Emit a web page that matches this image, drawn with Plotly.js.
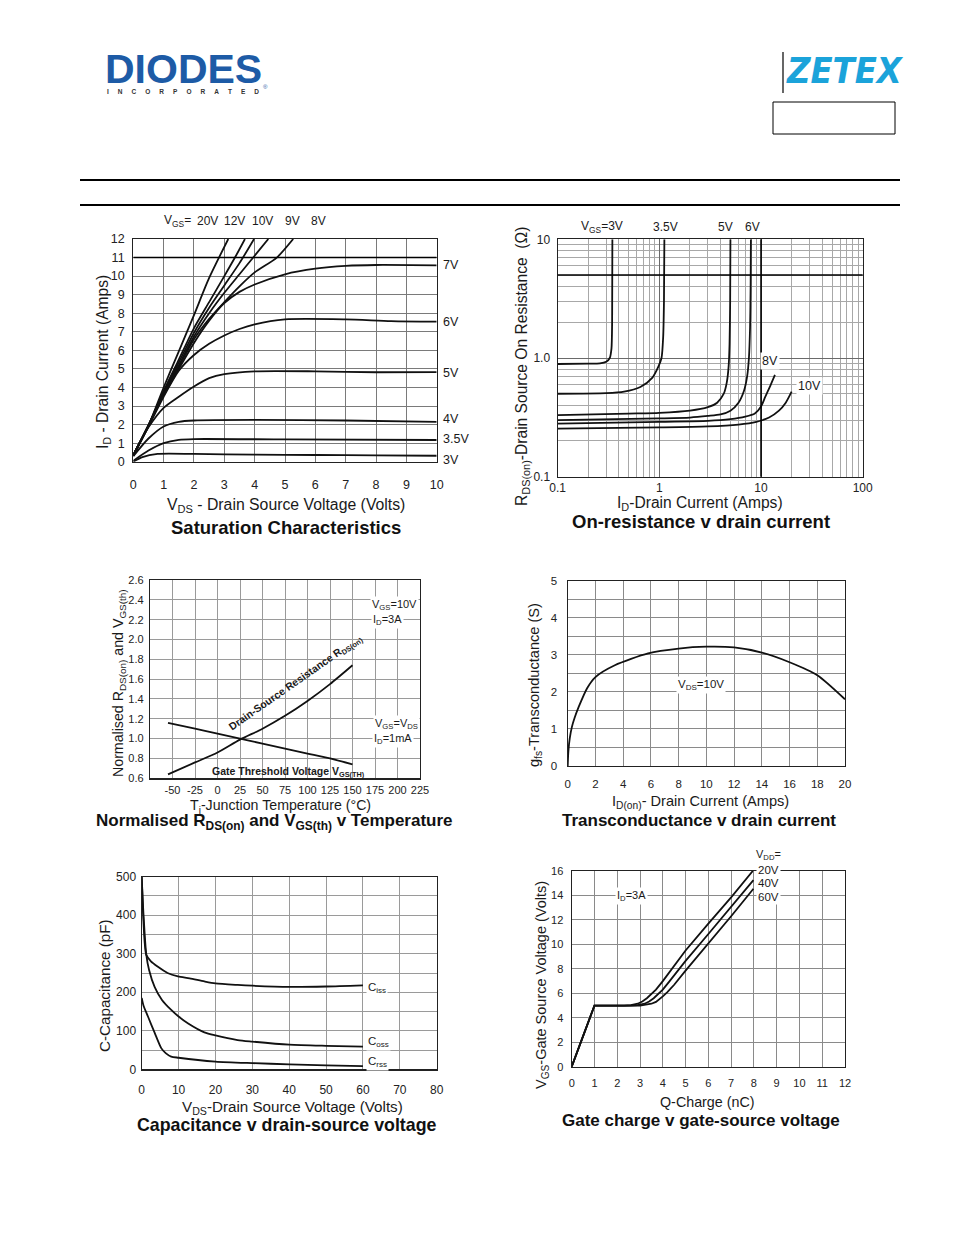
<!DOCTYPE html>
<html><head><meta charset="utf-8">
<script src="https://cdn.plot.ly/plotly-3.0.1.min.js"></script>
<style>html,body{margin:0;padding:0;background:#fff}#chart{width:954px;height:1235px}</style>
</head><body><div id="chart"></div>
<script>
// ================= DATA =================
// 1) Saturation characteristics: VDS (V) -> ID (A)
const sat20V_x=[0,0.5,1,1.5,2,2.5,3.13];           const sat20V_y=[0.3,1.95,4.0,5.95,7.9,9.9,12];
const sat12V_x=[0,0.5,1,1.5,2,2.5,3,3.35,3.68];     const sat12V_y=[0.35,1.95,3.8,5.5,7.2,8.6,10.0,11,12];
const sat10V_x=[0,0.5,1,1.5,2,2.5,3,3.5,3.98];      const sat10V_y=[0.35,1.95,3.75,5.35,6.95,8.3,9.5,10.7,12];
const sat9V_x=[0,0.5,1,1.5,2,2.5,3,3.5,4,4.45];     const sat9V_y=[0.35,1.95,3.7,5.2,6.75,8.0,9.1,10.1,11.1,12];
const sat8V_x=[0,0.5,1,1.5,2,2.5,3,3.5,4,4.73,5.27];const sat8V_y=[0.35,1.95,3.65,5.1,6.6,7.7,8.6,9.45,10.2,11,12];
const sat7V_x=[0,0.5,1,1.5,2,2.5,3,3.5,4,5,6,7,8,10];   const sat7V_y=[0.35,1.95,3.6,5.0,6.4,7.6,8.55,9.15,9.55,10.1,10.4,10.55,10.6,10.58];
const sat6V_x=[0,0.5,1,1.5,2,2.5,3,3.5,4,5,7,8.5,10];   const sat6V_y=[0.35,1.9,3.5,4.9,5.75,6.35,6.8,7.15,7.4,7.67,7.67,7.58,7.55];
const sat5V_x=[0,0.5,1,1.5,2,2.5,3,4,6,8,10];           const sat5V_y=[0.35,1.85,2.9,3.5,4.05,4.5,4.72,4.87,4.87,4.82,4.83];
const sat4V_x=[0,0.5,1,1.5,2,4,7,10];                   const sat4V_y=[0.3,1.25,1.9,2.15,2.22,2.25,2.22,2.15];
const sat35V_x=[0,0.5,1,1.5,2,5,10];                    const sat35V_y=[0.05,0.6,1.0,1.18,1.22,1.2,1.17];
const sat3V_x=[0,0.3,0.8,2,4,6,8,10];                   const sat3V_y=[0,0.25,0.42,0.42,0.38,0.36,0.34,0.32];

// 2) On-resistance vs drain current: ID (A) -> RDS(on) (ohm)
const ron3V_x=[0.1,0.2,0.26,0.3,0.325,0.338,0.343,0.345];      const ron3V_y=[0.89,0.895,0.9,0.93,1.0,1.2,2,10];
const ron35V_x=[0.1,0.3,0.45,0.65,0.85,0.98,1.05,1.09,1.11,1.12]; const ron35V_y=[0.5,0.505,0.52,0.57,0.68,0.85,1.0,1.5,3,10];
const ron5V_x=[0.1,0.5,1,2,3,3.7,4.3,4.6,4.8,4.9,4.97,5.0];    const ron5V_y=[0.33,0.34,0.345,0.36,0.385,0.42,0.5,0.62,0.85,1.3,3,10];
const ron6V_x=[0.1,1,2,3,4,5,6,6.8,7.3,7.6,7.8,7.9,7.95];      const ron6V_y=[0.30,0.31,0.315,0.325,0.335,0.36,0.42,0.53,0.7,1.0,1.8,4,10];
const ron8V_x=[0.1,1,3,5,7,8.7,10,11,12.3,13.7];               const ron8V_y=[0.28,0.29,0.295,0.305,0.32,0.34,0.39,0.47,0.58,0.72];
const ron10V_x=[0.1,1,3,6,9,12,15,17.5,20];                    const ron10V_y=[0.254,0.26,0.265,0.275,0.29,0.315,0.36,0.42,0.52];

// 3) Normalised RDS(on) and VGS(th) vs junction temperature (degC)
const temp_rds_x=[-55,-25,0,25,50,75,100,125,150];  const norm_rds_y=[0.64,0.76,0.86,0.99,1.10,1.23,1.38,1.55,1.74];
const temp_vth_x=[-55,-25,0,25,50,75,100,125,150];  const norm_vth_y=[1.16,1.10,1.05,1.0,0.95,0.9,0.85,0.80,0.74];

// 4) Transconductance vs drain current
const gfs_id=[0,0.05,0.15,0.3,0.5,0.8,1.4,2,3.4,5.8,8,10,12,14,16,18,20];
const gfs_s =[0,0.4,0.75,1.05,1.3,1.6,2.1,2.4,2.72,3.04,3.17,3.22,3.2,3.06,2.8,2.45,1.8];

// 5) Capacitance vs VDS
const ciss_v=[0,0.3,0.8,1.25,2.5,4.4,7,9.85,13,17,20,26,30,40,50,60];
const ciss_c=[500,420,330,297,280,266,250,241,236,228,223,219,217,214,215,218];
const coss_v=[0,0.5,1.25,2,3.5,5.5,8,10,12.6,17,20,26,30,40,50,60];
const coss_c=[500,400,297,258,214,180,154,137,119,96,88,76,72,64,61,59];
const crss_v=[0,0.5,1.7,3.5,5.3,6.5,8,10,20,30,40,50,60];
const crss_c=[185,165,137,95,55,42,33,30,20,16,13,10,8];

// 6) Gate charge vs VGS
const qg20_x=[0,1,2.3,2.6,2.9,3.1,3.3,3.5,3.7,4,5,6,7,7.95];
const qg20_y=[0,5,5,5.03,5.15,5.33,5.6,5.92,6.3,7.0,9.5,11.7,13.85,16];
const qg40_x=[0,1,2.6,2.9,3.2,3.4,3.6,3.8,4,4.3,5,6,7,7.98];
const qg40_y=[0,5,5,5.03,5.15,5.33,5.6,5.92,6.3,7.0,8.65,10.85,13.05,15.25];
const qg60_x=[0,1,3.0,3.3,3.5,3.7,3.85,4.0,4.2,4.5,5,6,7,7.98];
const qg60_y=[0,5,5,5.06,5.15,5.3,5.5,5.75,6.1,6.7,7.85,10.05,12.3,14.55];

// tick labels
const logTickX=[0.1,1,10,100], logTickXText=['0.1','1','10','100'];
const logTickY=[0.1,1,10],     logTickYText=['0.1','1.0','10'];
const tempTicks=[-50,-25,0,25,50,75,100,125,150,175,200,225];
const tempTickText=['-50','-25','0','25','50','75','100','125','150','175','200','225'];

// ================= LAYOUT HELPERS =================
const W=954,H=1235;
const FONT='Liberation Sans, Arial, Helvetica, sans-serif';
const px=x=>x/W, py=y=>1-y/H;
const INK='#111';
function curve(x,y,xa,ya,shape){return {x:x,y:y,xaxis:xa,yaxis:ya,type:'scatter',mode:'lines',
  line:{color:INK,width:1.8,shape:shape||'spline',smoothing:0.7},hoverinfo:'skip',showlegend:false};}
function axis(dom,extra,grid,size,stand){
  return Object.assign({domain:dom,showgrid:true,gridcolor:grid||'#8c8c8c',gridwidth:1,showline:true,mirror:true,
    linecolor:'#222',linewidth:1.2,zeroline:false,ticks:'',fixedrange:true,
    tickfont:{family:FONT,size:size||12,color:'#222'},ticklabelstandoff:stand},extra);
}
const ann=[];
function A(t,x,y,o){ann.push(Object.assign({text:t,x:px(x),y:py(y),xref:'paper',yref:'paper',showarrow:false,
  xanchor:'center',yanchor:'middle',font:{family:FONT,size:12,color:'#222'}},o||{}));}
function F(size,extra){return Object.assign({family:FONT,size:size,color:'#1a1a1a'},extra||{});}

// ================= TRACES =================
const data=[
  curve(sat20V_x,sat20V_y,'x','y'),curve(sat12V_x,sat12V_y,'x','y'),curve(sat10V_x,sat10V_y,'x','y'),
  curve(sat9V_x,sat9V_y,'x','y'),curve(sat8V_x,sat8V_y,'x','y'),curve(sat7V_x,sat7V_y,'x','y'),
  curve(sat6V_x,sat6V_y,'x','y'),curve(sat5V_x,sat5V_y,'x','y'),curve(sat4V_x,sat4V_y,'x','y'),
  curve(sat35V_x,sat35V_y,'x','y'),curve(sat3V_x,sat3V_y,'x','y'),
  curve(ron3V_x,ron3V_y,'x2','y2'),curve(ron35V_x,ron35V_y,'x2','y2'),curve(ron5V_x,ron5V_y,'x2','y2'),
  curve(ron6V_x,ron6V_y,'x2','y2'),curve(ron8V_x,ron8V_y,'x2','y2'),curve(ron10V_x,ron10V_y,'x2','y2'),
  curve(temp_rds_x,norm_rds_y,'x3','y3'),curve(temp_vth_x,norm_vth_y,'x3','y3'),
  curve(gfs_id,gfs_s,'x4','y4'),
  curve(ciss_v,ciss_c,'x5','y5'),curve(coss_v,coss_c,'x5','y5'),curve(crss_v,crss_c,'x5','y5'),
  curve(qg20_x,qg20_y,'x6','y6','linear'),curve(qg40_x,qg40_y,'x6','y6','linear'),curve(qg60_x,qg60_y,'x6','y6','linear')
];

// ================= AXES =================
const logMinor=[0.2,0.3,0.4,0.5,0.6,0.7,0.8,0.9,2,3,4,5,6,7,8,9,20,30,40,50,60,70,80,90];
const c1={l:133.3,r:436.7,t:239,b:461.7}, c2={l:557.7,r:862.7,t:239.3,b:476.7}, c3={l:150,r:420,t:580,b:778.3},
      c4={l:567.7,r:845,t:580.7,b:766}, c5={l:141.7,r:436.7,t:876.7,b:1069.3}, c6={l:571.7,r:845,t:871,b:1066.7};
const dx=c=>[px(c.l),px(c.r)], dy=c=>[py(c.b),py(c.t)];

const layout={width:W,height:H,margin:{l:0,r:0,t:0,b:0},paper_bgcolor:'#fff',plot_bgcolor:'#fff',
  font:{family:FONT,color:'#222'},showlegend:false,
  xaxis:axis(dx(c1),{anchor:'y',range:[0,10],dtick:1,tick0:0},'#7a7a7a',12.5,11),
  yaxis:axis(dy(c1),{anchor:'x',range:[0,12],dtick:1,tick0:0},'#7a7a7a',12.5,5),
  xaxis2:axis(dx(c2),{anchor:'y2',type:'log',range:[-1,2],tickmode:'array',tickvals:logTickX,ticktext:logTickXText,
     minor:{tickmode:'array',tickvals:logMinor,showgrid:true,gridcolor:'#a8a8a8',gridwidth:1,ticks:''}},'#6a6a6a',12,0),
  yaxis2:axis(dy(c2),{anchor:'x2',type:'log',range:[-1,1],tickmode:'array',tickvals:logTickY,ticktext:logTickYText,
     minor:{tickmode:'array',tickvals:logMinor,showgrid:true,gridcolor:'#a8a8a8',gridwidth:1,ticks:''}},'#6a6a6a',12,4),
  xaxis3:axis(dx(c3),{anchor:'y3',range:[-75,225],tickmode:'array',tickvals:tempTicks,ticktext:tempTickText},'#9a9a9a',11,1),
  yaxis3:axis(dy(c3),{anchor:'x3',range:[0.6,2.6],dtick:0.2,tick0:0.6,tickformat:'.1f'},'#9a9a9a',11,3),
  xaxis4:axis(dx(c4),{anchor:'y4',range:[0,20],dtick:2,tick0:0},'#8a8a8a',11.5,7),
  yaxis4:axis(dy(c4),{anchor:'x4',range:[0,5],dtick:1,tick0:0,minor:{dtick:0.5,showgrid:true,gridcolor:'#8a8a8a',ticks:''}},'#8a8a8a',11.5,7),
  xaxis5:axis(dx(c5),{anchor:'y5',range:[0,80],dtick:10,tick0:0},'#9a9a9a',12,9),
  yaxis5:axis(dy(c5),{anchor:'x5',range:[0,500],dtick:100,tick0:0,minor:{dtick:50,showgrid:true,gridcolor:'#9a9a9a',ticks:''}},'#9a9a9a',12,2),
  xaxis6:axis(dx(c6),{anchor:'y6',range:[0,12],dtick:1,tick0:0},'#8a8a8a',11,6),
  yaxis6:axis(dy(c6),{anchor:'x6',range:[0,16],dtick:2,tick0:0},'#8a8a8a',11,5),
  shapes:[],annotations:ann
};

// log-axis pixel helpers for the two emphasised grid lines of chart 2
const l2x=v=>c2.l+(Math.log10(v)+1)/3*(c2.r-c2.l), l2y=v=>c2.b-(Math.log10(v)+1)/2*(c2.b-c2.t);
const S=layout.shapes;
function L(x0,y0,x1,y1,w,col){S.push({type:'line',xref:'paper',yref:'paper',x0:px(x0),y0:py(y0),x1:px(x1),y1:py(y1),line:{color:col||'#000',width:w||1},layer:'above'});}
L(80,180,900,180,2.2); L(80,205,900,205,2.2);          // header rules
L(783,52,783,93,1.2);                                  // ZETEX bar
S.push({type:'rect',xref:'paper',yref:'paper',x0:px(773),x1:px(895),y0:py(134),y1:py(102),line:{color:'#000',width:1}});
S.push({type:'line',xref:'x',yref:'y',x0:0,x1:10,y0:11,y1:11,line:{color:'#000',width:1.4},layer:'above'});
L(l2x(10),c2.t,l2x(10),c2.b,1.6,'#000'); L(c2.l,l2y(5),c2.r,l2y(5),1.6,'#000');

// ================= TEXT =================
// header logos
A('DIODES',183.5,69,{font:F(41,{color:'#1D5BA6',weight:900})});
A('®',265,87,{font:F(6,{color:'#1D5BA6'})});
const sp='\u00a0\u00a0\u00a0\u00a0\u00a0';
A(['I','N','C','O','R','P','O','R','A','T','E','D'].join(sp),183,92,{font:F(6.5,{weight:700,color:'#333'})});
A('ZETEX',845,71,{font:{family:'DejaVu Sans Condensed, Liberation Sans Narrow, Arial Narrow, sans-serif',size:36,color:'#1BA3DA',weight:700,style:'italic'}});

// chart 1
A('V<sub>GS</sub>=',162,221,{xanchor:'left',font:F(12)});
[['20V',207],['12V',234],['10V',262],['9V',292],['8V',318]].forEach(p=>A(p[0],p[1],221,{font:F(12)}));
[['7V',265],['6V',322],['5V',373],['4V',419],['3.5V',439],['3V',460]].forEach(p=>A(p[0],441,p[1],{xanchor:'left',font:F(12.5)}));
A('I<sub>D</sub> - Drain Current (Amps)',103,362,{textangle:-90,font:F(15.6)});
A('V<sub>DS</sub> - Drain Source Voltage (Volts)',286,506,{font:F(15.8)});
A('<b>Saturation Characteristics</b>',286,527,{font:F(18.5,{color:'#111'})});

// chart 2
A('V<sub>GS</sub>=3V',602,227,{font:F(12)}); A('3.5V',665,227,{font:F(12)}); A('5V',725,227,{font:F(12)}); A('6V',752,227,{font:F(12)});
A('8V',770,361,{font:F(12.5),bgcolor:'#fff'}); A('10V',809,386,{font:F(12.5),bgcolor:'#fff'});
A('R<sub>DS(on)</sub>-Drain Source On Resistance  (Ω)',522,367,{textangle:-90,font:F(15.6)});
A('I<sub>D</sub>-Drain Current (Amps)',700,503,{font:F(15.6)});
A('<b>On-resistance v drain current</b>',701,522,{font:F(18.5,{color:'#111'})});

// chart 3
A('V<sub>GS</sub>=10V',394,605,{font:F(11),bgcolor:'#fff'}); A('I<sub>D</sub>=3A',387,620,{font:F(11),bgcolor:'#fff'});
A('V<sub>GS</sub>=V<sub>DS</sub>',396,724,{font:F(11),bgcolor:'#fff'}); A('I<sub>D</sub>=1mA',393,739,{font:F(11),bgcolor:'#fff'});
A('<b>Drain-Source Resistance R<sub>DS(on)</sub></b>',295,683,{textangle:-35,font:F(10.5)});
A('<b>Gate Threshold Voltage V<sub>GS(TH)</sub></b>',288,772,{font:F(10.5)});
A('Normalised R<sub>DS(on)</sub> and V<sub>GS(th)</sub>',119,683,{textangle:-90,font:F(14.2)});
A('T<sub>j</sub>-Junction Temperature (°C)',280,806,{font:F(14.2)});
A('<b>Normalised R<sub>DS(on)</sub> and V<sub>GS(th)</sub> v Temperature</b>',274,822,{font:F(17,{color:'#111'})});

// chart 4
A('V<sub>DS</sub>=10V',701,685,{font:F(11.5),bgcolor:'#fff'});
A('g<sub>fs</sub>-Transconductance (S)',535,685,{textangle:-90,font:F(14.6)});
A('I<sub>D(on)</sub>- Drain Current (Amps)',700,802,{font:F(14.6)});
A('<b>Transconductance v drain current</b>',699,820,{font:F(17,{color:'#111'})});

// chart 5
A('C<sub>iss</sub>',366,988,{xanchor:'left',font:F(11.5),bgcolor:'#fff'});
A('C<sub>oss</sub>',366,1042,{xanchor:'left',font:F(11.5),bgcolor:'#fff'});
A('C<sub>rss</sub>',366,1062,{xanchor:'left',font:F(11.5),bgcolor:'#fff'});
A('C-Capacitance (pF)',104,986,{textangle:-90,font:F(15.2)});
A('V<sub>DS</sub>-Drain Source Voltage (Volts)',292,1107,{font:F(15.2)});
A('<b>Capacitance v drain-source voltage</b>',287,1125,{font:F(17.8,{color:'#111'})});

// chart 6
A('V<sub>DD</sub>=',768,855,{font:F(11)});
A('20V',768,870,{font:F(11.5),bgcolor:'#fff'}); A('40V',768,883,{font:F(11.5),bgcolor:'#fff'}); A('60V',768,897,{font:F(11.5),bgcolor:'#fff'});
A('I<sub>D</sub>=3A',631,896,{font:F(11),bgcolor:'#fff'});
A('V<sub>GS</sub>-Gate Source Voltage (Volts)',542,985,{textangle:-90,font:F(14.5)});
A('Q-Charge (nC)',707,1102,{font:F(14.3)});
A('<b>Gate charge v gate-source voltage</b>',701,1120,{font:F(17,{color:'#111'})});

Plotly.newPlot('chart',data,layout,{staticPlot:true,displayModeBar:false});
</script></body></html>
